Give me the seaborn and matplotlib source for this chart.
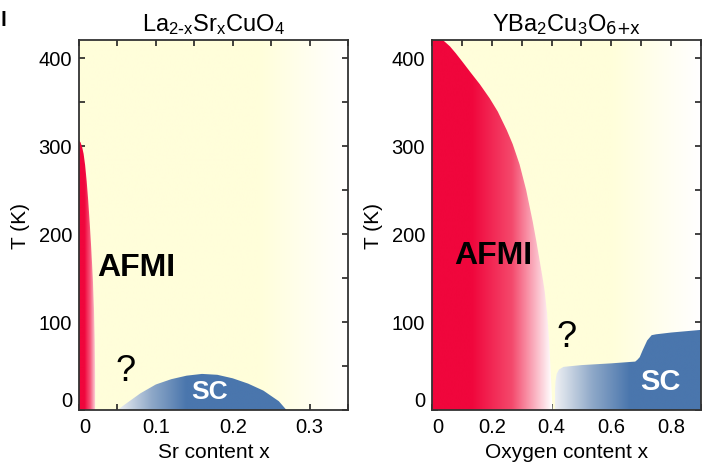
import numpy as np
import matplotlib
matplotlib.use("Agg")
import matplotlib.pyplot as plt
from matplotlib.patches import Polygon
from matplotlib.ticker import MultipleLocator, FuncFormatter
import seaborn as sns

# ---- La(2-x)Sr(x)CuO4 ----
lsco_afm_x = [0.0, 0.002, 0.004, 0.006, 0.008, 0.010, 0.012, 0.014, 0.016, 0.018, 0.0195, 0.0205, 0.021, 0.021]
lsco_afm_t = [306, 304, 299, 291, 278, 260, 238, 212, 183, 150, 115, 80, 40, 0]
lsco_sc_x = [0.05, 0.06, 0.08, 0.10, 0.12, 0.14, 0.16, 0.18, 0.20, 0.22, 0.24, 0.26, 0.27]
lsco_sc_t = [0, 6.5, 19, 29, 35, 39, 41, 40, 36, 30, 22, 10, 0]
lsco_xticks = [0.0, 0.1, 0.2, 0.3]

# ---- YBa2Cu3O(6+x) ----
ybco_afm_x = [0.0, 0.02, 0.037, 0.06, 0.08, 0.103, 0.13, 0.16, 0.193, 0.22, 0.25, 0.27,
              0.293, 0.315, 0.337, 0.35, 0.36, 0.37, 0.377, 0.385, 0.392, 0.397, 0.401, 0.403]
ybco_afm_t = [428, 425, 420, 413, 405, 395, 383, 370, 354, 339, 318, 302,
              279, 250, 214, 190, 170, 150, 135, 110, 78, 45, 15, 0]
ybco_sc_x = [0.41, 0.411, 0.413, 0.417, 0.425, 0.44, 0.5, 0.6, 0.68, 0.687, 0.695, 0.705,
             0.72, 0.735, 0.75, 0.8, 0.9, 0.9]
ybco_sc_t = [0, 20, 32, 41, 46, 49, 51, 53, 55, 57, 60, 68, 79, 85, 86, 88, 91, 0]
ybco_xticks = [0.0, 0.2, 0.4, 0.6, 0.8]

yticks = [0, 100, 200, 300, 400]

sns.set_theme(style="ticks")
plt.rcParams["font.family"] = ["Liberation Sans", "DejaVu Sans"]
plt.rcParams["mathtext.default"] = "regular"
plt.rcParams["text.color"] = "black"
plt.rcParams["axes.labelcolor"] = "black"

YELLOW = "#FFFEDA"
RED = "#F0063C"
BLUE = "#4A76AD"

bg_cmap = sns.blend_palette([YELLOW, YELLOW, YELLOW, "#FFFFFF"], as_cmap=True)
lsco_red = sns.blend_palette([RED, RED, "#F6567A", "#FDE0E5"], as_cmap=True)
ybco_red = sns.blend_palette([RED, RED, "#F4496C", "#FFFFFF"], as_cmap=True)
sc_cmap = sns.blend_palette(["#EEF0F3", "#8EA8C8", BLUE], as_cmap=True)


def gradient_image(ax, cmap, x0, x1, xmin, xmax, ymin, ymax, clip=None, zorder=1):
    xs = np.linspace(xmin, xmax, 800)
    frac = np.clip((xs - x0) / (x1 - x0), 0, 1)
    rgba = cmap(frac)[None, :, :]
    im = ax.imshow(rgba, extent=[xmin, xmax, ymin, ymax], origin="lower",
                   aspect="auto", interpolation="bilinear", zorder=zorder)
    if clip is not None:
        im.set_clip_path(clip)
    return im


def region(ax, xs, ts, cmap, x0, x1, close_left):
    verts = list(zip(xs, ts))
    if close_left:
        verts = verts + [(0.0, 0.0)]
    poly = Polygon(verts, closed=True, facecolor="none", edgecolor="none",
                   transform=ax.transData)
    ax.add_patch(poly)
    gradient_image(ax, cmap, x0, x1, min(xs), max(xs), 0, max(ts), clip=poly, zorder=2)


def style_axes(ax, xmax, xminor, xticks):
    ax.set_xlim(0, xmax)
    ax.set_ylim(0, 420)
    ax.set_xticks(xticks)
    ax.set_yticks(yticks)
    ax.xaxis.set_minor_locator(MultipleLocator(xminor))
    ax.yaxis.set_minor_locator(MultipleLocator(50))
    fmt = FuncFormatter(lambda v, _: "0" if abs(v) < 1e-9 else f"{v:g}")
    ax.xaxis.set_major_formatter(fmt)
    ax.yaxis.set_major_formatter(fmt)
    ax.tick_params(which="both", direction="in", top=True, right=True,
                   length=4.5, width=1.2, color="#222222", labelsize=14.5, pad=5,
                   labelcolor="black")
    for sp in ax.spines.values():
        sp.set_linewidth(1.3)
        sp.set_color("#333333")
        sp.set_zorder(5)
    ax.xaxis.get_major_ticks()[0].label1.set_horizontalalignment("left")
    ax.yaxis.get_major_ticks()[0].label1.set_verticalalignment("bottom")
    ax.set_ylabel("T (K)", fontsize=15, labelpad=6)


fig = plt.figure(figsize=(7.09, 4.64), dpi=100)
ax1 = fig.add_axes([0.1114, 0.1142, 0.3794, 0.797])
ax2 = fig.add_axes([0.6093, 0.1142, 0.3794, 0.797])

# left panel
gradient_image(ax1, bg_cmap, 0.0, 0.35, 0, 0.35, 0, 420, zorder=0)
region(ax1, lsco_afm_x, lsco_afm_t, lsco_red, 0.0, 0.021, close_left=True)
region(ax1, lsco_sc_x, lsco_sc_t, sc_cmap, 0.05, 0.14, close_left=False)
style_axes(ax1, 0.35, 0.05, lsco_xticks)
ax1.set_xlabel("Sr content x", fontsize=15, labelpad=4)
ax1.set_title("La$_{2\\text{-}x}$Sr$_x$CuO$_4$", fontsize=17, pad=7)
ax1.text(0.075, 162, "AFMI", fontsize=23, fontweight="bold", ha="center", va="center", zorder=6)
ax1.text(0.061, 45, "?", fontsize=26, ha="center", va="center", zorder=6)
ax1.text(0.17, 22, "SC", fontsize=19, fontweight="bold", color="white",
         ha="center", va="center", zorder=6)

# right panel
gradient_image(ax2, bg_cmap, 0.0, 0.9, 0, 0.9, 0, 420, zorder=0)
region(ax2, ybco_afm_x, ybco_afm_t, ybco_red, 0.0, 0.4, close_left=True)
region(ax2, ybco_sc_x, ybco_sc_t, sc_cmap, 0.41, 0.66, close_left=False)
style_axes(ax2, 0.9, 0.1, ybco_xticks)
ax2.set_xlabel("Oxygen content x", fontsize=15, labelpad=4)
ax2.set_title("YBa$_2$Cu$_3$O$_{\\text{6+x}}$", fontsize=17, pad=7)
ax2.text(0.204, 176, "AFMI", fontsize=23, fontweight="bold", ha="center", va="center", zorder=6)
ax2.text(0.45, 84, "?", fontsize=26, ha="center", va="center", zorder=6)
ax2.text(0.763, 33, "SC", fontsize=21, fontweight="bold", color="white",
         ha="center", va="center", zorder=6)

fig.text(0.0, 0.955, "l", fontsize=15, fontweight="bold", ha="left", va="center")

fig.savefig("out.png", dpi=100)
